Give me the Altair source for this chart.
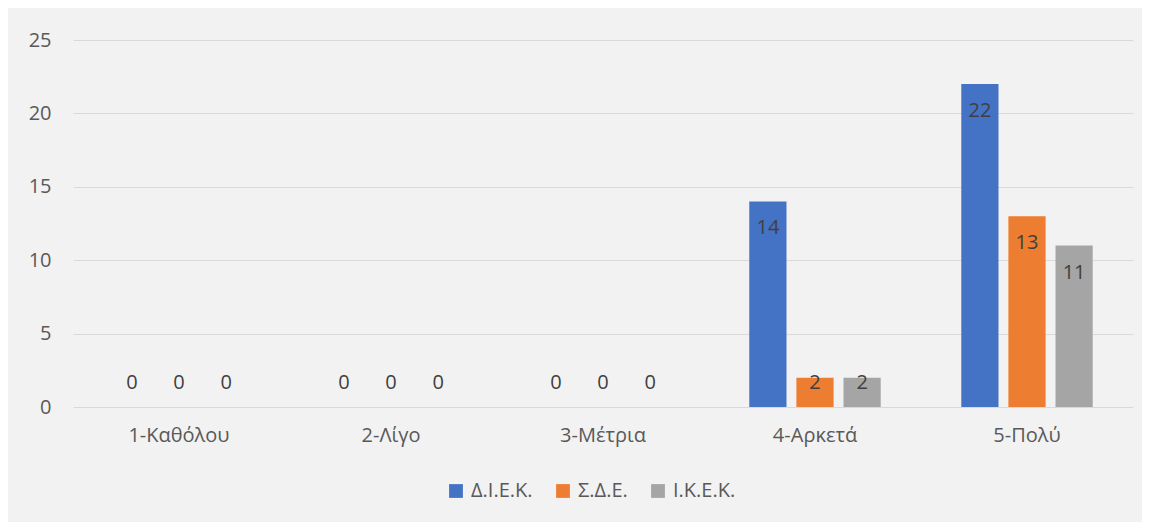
import altair as alt
import pandas as pd

categories = ["1-Καθόλου", "2-Λίγο", "3-Μέτρια", "4-Αρκετά", "5-Πολύ"]
series = ["Δ.Ι.Ε.Κ.", "Σ.Δ.Ε.", "Ι.Κ.Ε.Κ."]
diek = [0, 0, 0, 14, 22]
sde = [0, 0, 0, 2, 13]
ikek = [0, 0, 0, 2, 11]
colors = ["#4472C4", "#ED7D31", "#A5A5A5"]

rows = []
for s, vals in zip(series, [diek, sde, ikek]):
    for c, v in zip(categories, vals):
        rows.append({"category": c, "series": s, "value": v})
df = pd.DataFrame(rows)

FONT = "Open Sans"
FS = 20

x = alt.X("category:N", sort=categories, title=None,
          scale=alt.Scale(paddingInner=0.38, paddingOuter=0.19),
          axis=alt.Axis(labelAngle=0, ticks=False, domain=False, labelPadding=18,
                        labelFontSize=FS, labelColor="#595959", labelFont=FONT))
xo = alt.XOffset("series:N", sort=series,
                 scale=alt.Scale(paddingInner=0.21, paddingOuter=0))
y = alt.Y("value:Q", title=None,
          scale=alt.Scale(domain=[0, 25], nice=False),
          axis=alt.Axis(values=[0, 5, 10, 15, 20, 25], ticks=False, domain=False,
                        gridColor="#D9D9D9", gridWidth=1.2, labelPadding=22,
                        labelFontSize=FS, labelColor="#595959", labelFont=FONT))

base = alt.Chart(df)

bars = base.mark_bar().encode(
    x=x, xOffset=xo, y=y,
    color=alt.Color("series:N", sort=series,
                    scale=alt.Scale(domain=series, range=colors),
                    legend=alt.Legend(title=None, orient="none", direction="horizontal",
                                      legendX=373, legendY=441,
                                      symbolType="square", symbolSize=190,
                                      symbolStrokeWidth=0, labelFontSize=FS,
                                      labelColor="#595959", labelFont=FONT,
                                      columnPadding=20, labelOffset=5)),
)

labels_big = base.transform_filter("datum.value >= 3").mark_text(
    baseline="middle", dy=27, fontSize=FS, color="#404040", font=FONT
).encode(x=x, xOffset=xo, y=y, text="value:Q")

labels_small = base.transform_filter("datum.value < 3").mark_text(
    baseline="middle", dy=-24, fontSize=FS, color="#404040", font=FONT
).encode(x=x, xOffset=xo, y=alt.datum(0), text="value:Q")

chart = alt.layer(bars, labels_big, labels_small).properties(
    width=1060, height=367,
    background="#F2F2F2",
    padding={"left": 65, "top": 32, "right": 9, "bottom": 115},
    autosize=alt.AutoSizeParams(type="none"),
).configure_view(stroke=None)

chart.save("out.html", embed_options={"renderer": "svg", "actions": False})
